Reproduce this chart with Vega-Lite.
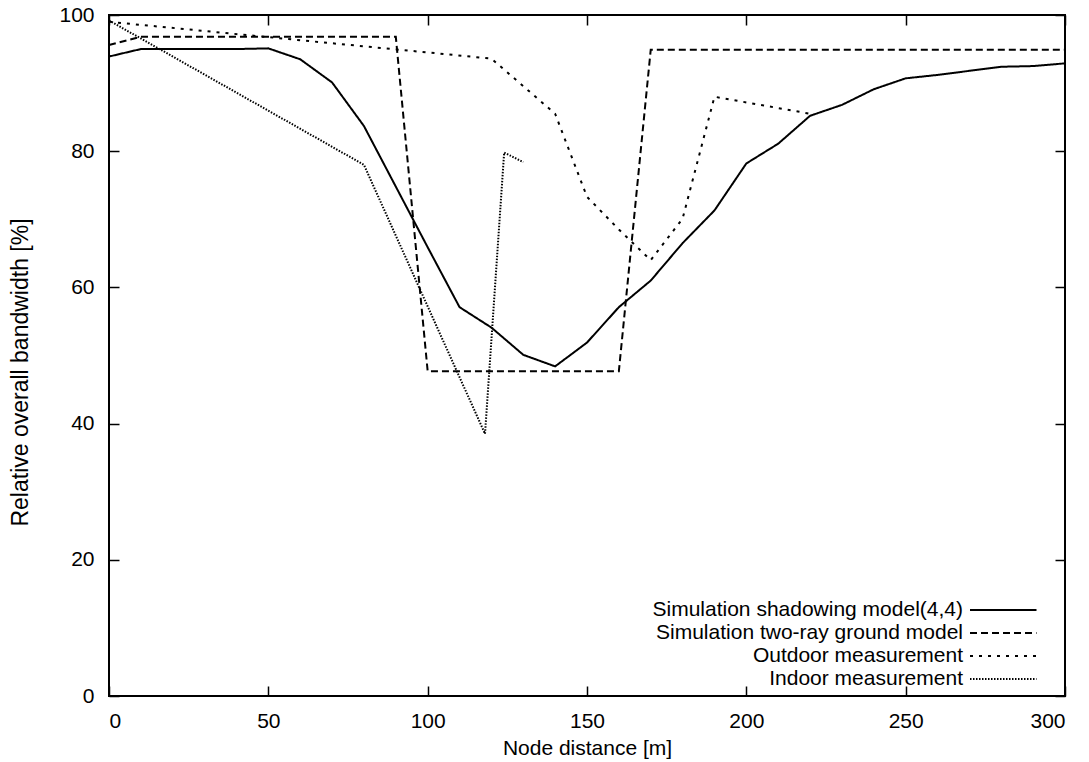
{
  "$schema": "https://vega.github.io/schema/vega-lite/v6.json",
  "width": 956,
  "height": 681,
  "autosize": "none",
  "padding": {"left": 109, "top": 15, "right": 24, "bottom": 66},
  "background": "white",
  "config": {
    "font": "Liberation Sans",
    "view": {"stroke": "black", "strokeWidth": 2},
    "axis": {
      "grid": false,
      "domain": false,
      "tickColor": "black",
      "tickWidth": 1.5,
      "tickSize": -10,
      "labelColor": "black",
      "labelFontSize": 21,
      "labelFont": "Liberation Sans",
      "titleFontSize": 21,
      "titleFontWeight": "normal",
      "titleColor": "black",
      "titleFont": "Liberation Sans"
    },
    "legend": {
      "orient": "none",
      "legendX": 883.75,
      "legendY": 584.5,
      "symbolSize": 361,
      "symbolStrokeWidth": 2,
      "symbolStrokeColor": "black",
      "symbolFillColor": "transparent",
      "labelAlign": "right",
      "labelOffset": -50.75,
      "labelFontSize": 21,
      "labelFont": "Liberation Sans",
      "labelColor": "black",
      "labelLimit": 0,
      "rowPadding": 1,
      "padding": 0
    }
  },
  "datasets": {
    "main": [
      {"series": "Simulation shadowing model(4,4)", "distance": 0, "value": 93.9},
      {"series": "Simulation shadowing model(4,4)", "distance": 10, "value": 95.0},
      {"series": "Simulation shadowing model(4,4)", "distance": 20, "value": 95.0},
      {"series": "Simulation shadowing model(4,4)", "distance": 30, "value": 95.0},
      {"series": "Simulation shadowing model(4,4)", "distance": 40, "value": 95.0},
      {"series": "Simulation shadowing model(4,4)", "distance": 50, "value": 95.1},
      {"series": "Simulation shadowing model(4,4)", "distance": 60, "value": 93.5},
      {"series": "Simulation shadowing model(4,4)", "distance": 70, "value": 90.1},
      {"series": "Simulation shadowing model(4,4)", "distance": 80, "value": 83.7},
      {"series": "Simulation shadowing model(4,4)", "distance": 90, "value": 74.8},
      {"series": "Simulation shadowing model(4,4)", "distance": 100, "value": 65.9},
      {"series": "Simulation shadowing model(4,4)", "distance": 110, "value": 57.1},
      {"series": "Simulation shadowing model(4,4)", "distance": 120, "value": 54.1},
      {"series": "Simulation shadowing model(4,4)", "distance": 130, "value": 50.1},
      {"series": "Simulation shadowing model(4,4)", "distance": 140, "value": 48.4},
      {"series": "Simulation shadowing model(4,4)", "distance": 150, "value": 51.9},
      {"series": "Simulation shadowing model(4,4)", "distance": 160, "value": 57.1},
      {"series": "Simulation shadowing model(4,4)", "distance": 170, "value": 61.0},
      {"series": "Simulation shadowing model(4,4)", "distance": 180, "value": 66.5},
      {"series": "Simulation shadowing model(4,4)", "distance": 190, "value": 71.3},
      {"series": "Simulation shadowing model(4,4)", "distance": 200, "value": 78.2},
      {"series": "Simulation shadowing model(4,4)", "distance": 210, "value": 81.1},
      {"series": "Simulation shadowing model(4,4)", "distance": 220, "value": 85.2},
      {"series": "Simulation shadowing model(4,4)", "distance": 230, "value": 86.8},
      {"series": "Simulation shadowing model(4,4)", "distance": 240, "value": 89.1},
      {"series": "Simulation shadowing model(4,4)", "distance": 250, "value": 90.7},
      {"series": "Simulation shadowing model(4,4)", "distance": 260, "value": 91.2},
      {"series": "Simulation shadowing model(4,4)", "distance": 270, "value": 91.8},
      {"series": "Simulation shadowing model(4,4)", "distance": 280, "value": 92.4},
      {"series": "Simulation shadowing model(4,4)", "distance": 290, "value": 92.5},
      {"series": "Simulation shadowing model(4,4)", "distance": 300, "value": 92.9},
      {"series": "Simulation two-ray ground model", "distance": 0, "value": 95.6},
      {"series": "Simulation two-ray ground model", "distance": 10, "value": 96.8},
      {"series": "Simulation two-ray ground model", "distance": 20, "value": 96.8},
      {"series": "Simulation two-ray ground model", "distance": 30, "value": 96.8},
      {"series": "Simulation two-ray ground model", "distance": 40, "value": 96.8},
      {"series": "Simulation two-ray ground model", "distance": 50, "value": 96.8},
      {"series": "Simulation two-ray ground model", "distance": 60, "value": 96.8},
      {"series": "Simulation two-ray ground model", "distance": 70, "value": 96.8},
      {"series": "Simulation two-ray ground model", "distance": 80, "value": 96.8},
      {"series": "Simulation two-ray ground model", "distance": 90, "value": 96.8},
      {"series": "Simulation two-ray ground model", "distance": 100, "value": 47.7},
      {"series": "Simulation two-ray ground model", "distance": 110, "value": 47.7},
      {"series": "Simulation two-ray ground model", "distance": 120, "value": 47.7},
      {"series": "Simulation two-ray ground model", "distance": 130, "value": 47.7},
      {"series": "Simulation two-ray ground model", "distance": 140, "value": 47.7},
      {"series": "Simulation two-ray ground model", "distance": 150, "value": 47.7},
      {"series": "Simulation two-ray ground model", "distance": 160, "value": 47.7},
      {"series": "Simulation two-ray ground model", "distance": 170, "value": 94.9},
      {"series": "Simulation two-ray ground model", "distance": 180, "value": 94.9},
      {"series": "Simulation two-ray ground model", "distance": 190, "value": 94.9},
      {"series": "Simulation two-ray ground model", "distance": 200, "value": 94.9},
      {"series": "Simulation two-ray ground model", "distance": 210, "value": 94.9},
      {"series": "Simulation two-ray ground model", "distance": 220, "value": 94.9},
      {"series": "Simulation two-ray ground model", "distance": 230, "value": 94.9},
      {"series": "Simulation two-ray ground model", "distance": 240, "value": 94.9},
      {"series": "Simulation two-ray ground model", "distance": 250, "value": 94.9},
      {"series": "Simulation two-ray ground model", "distance": 260, "value": 94.9},
      {"series": "Simulation two-ray ground model", "distance": 270, "value": 94.9},
      {"series": "Simulation two-ray ground model", "distance": 280, "value": 94.9},
      {"series": "Simulation two-ray ground model", "distance": 290, "value": 94.9},
      {"series": "Simulation two-ray ground model", "distance": 300, "value": 94.9},
      {"series": "Outdoor measurement", "distance": 0, "value": 99.0},
      {"series": "Outdoor measurement", "distance": 120, "value": 93.6},
      {"series": "Outdoor measurement", "distance": 140, "value": 85.5},
      {"series": "Outdoor measurement", "distance": 150, "value": 73.3},
      {"series": "Outdoor measurement", "distance": 160, "value": 68.5},
      {"series": "Outdoor measurement", "distance": 170, "value": 64.0},
      {"series": "Outdoor measurement", "distance": 180, "value": 70.1},
      {"series": "Outdoor measurement", "distance": 190, "value": 88.0},
      {"series": "Outdoor measurement", "distance": 220, "value": 85.5},
      {"series": "Indoor measurement", "distance": 0, "value": 99.2},
      {"series": "Indoor measurement", "distance": 80, "value": 78.0},
      {"series": "Indoor measurement", "distance": 118, "value": 38.5},
      {"series": "Indoor measurement", "distance": 124, "value": 79.8},
      {"series": "Indoor measurement", "distance": 130, "value": 78.4}
    ]
  },
  "layer": [
    {
      "data": {"name": "main"},
      "mark": {"type": "line", "color": "black", "strokeCap": "butt", "strokeJoin": "miter"},
      "encoding": {
        "x": {
          "field": "distance", "type": "quantitative",
          "scale": {"domain": [0, 300], "nice": false, "zero": false},
          "axis": {"orient": "bottom", "values": [0, 50, 100, 150, 200, 250, 300], "title": "Node distance [m]", "labelPadding": 24, "titleY": 58, "titleBaseline": "alphabetic"}
        },
        "y": {
          "field": "value", "type": "quantitative",
          "scale": {"domain": [0, 100], "nice": false},
          "axis": {"orient": "left", "values": [0, 20, 40, 60, 80, 100], "title": "Relative overall bandwidth [%]", "labelPadding": 25, "titleX": -82, "titleY": 357, "titleBaseline": "alphabetic", "titleFontSize": 23}
        },
        "strokeDash": {
          "field": "series", "type": "nominal",
          "scale": {
            "domain": ["Simulation shadowing model(4,4)", "Simulation two-ray ground model", "Outdoor measurement", "Indoor measurement"],
            "range": [[1, 0], [7, 4], [3, 6], [1.5, 1.5]]
          },
          "legend": {"title": null, "symbolType": "M-3.5,0H3.5"}
        },
        "strokeWidth": {
          "field": "series", "type": "nominal",
          "scale": {
            "domain": ["Simulation shadowing model(4,4)", "Simulation two-ray ground model", "Outdoor measurement", "Indoor measurement"],
            "range": [2, 2, 2.5, 1.5]
          },
          "legend": null
        }
      }
    },
    {
      "data": {"name": "main"},
      "mark": {"type": "line", "opacity": 0},
      "encoding": {
        "x": {
          "field": "distance", "type": "quantitative",
          "scale": {"domain": [0, 300], "nice": false, "zero": false},
          "axis": {"orient": "top", "values": [0, 50, 100, 150, 200, 250, 300], "labels": false, "title": null}
        },
        "y": {
          "field": "value", "type": "quantitative",
          "scale": {"domain": [0, 100], "nice": false},
          "axis": {"orient": "right", "values": [0, 20, 40, 60, 80, 100], "labels": false, "title": null}
        },
        "detail": {"field": "series"}
      }
    }
  ],
  "resolve": {"axis": {"x": "independent", "y": "independent"}}
}
